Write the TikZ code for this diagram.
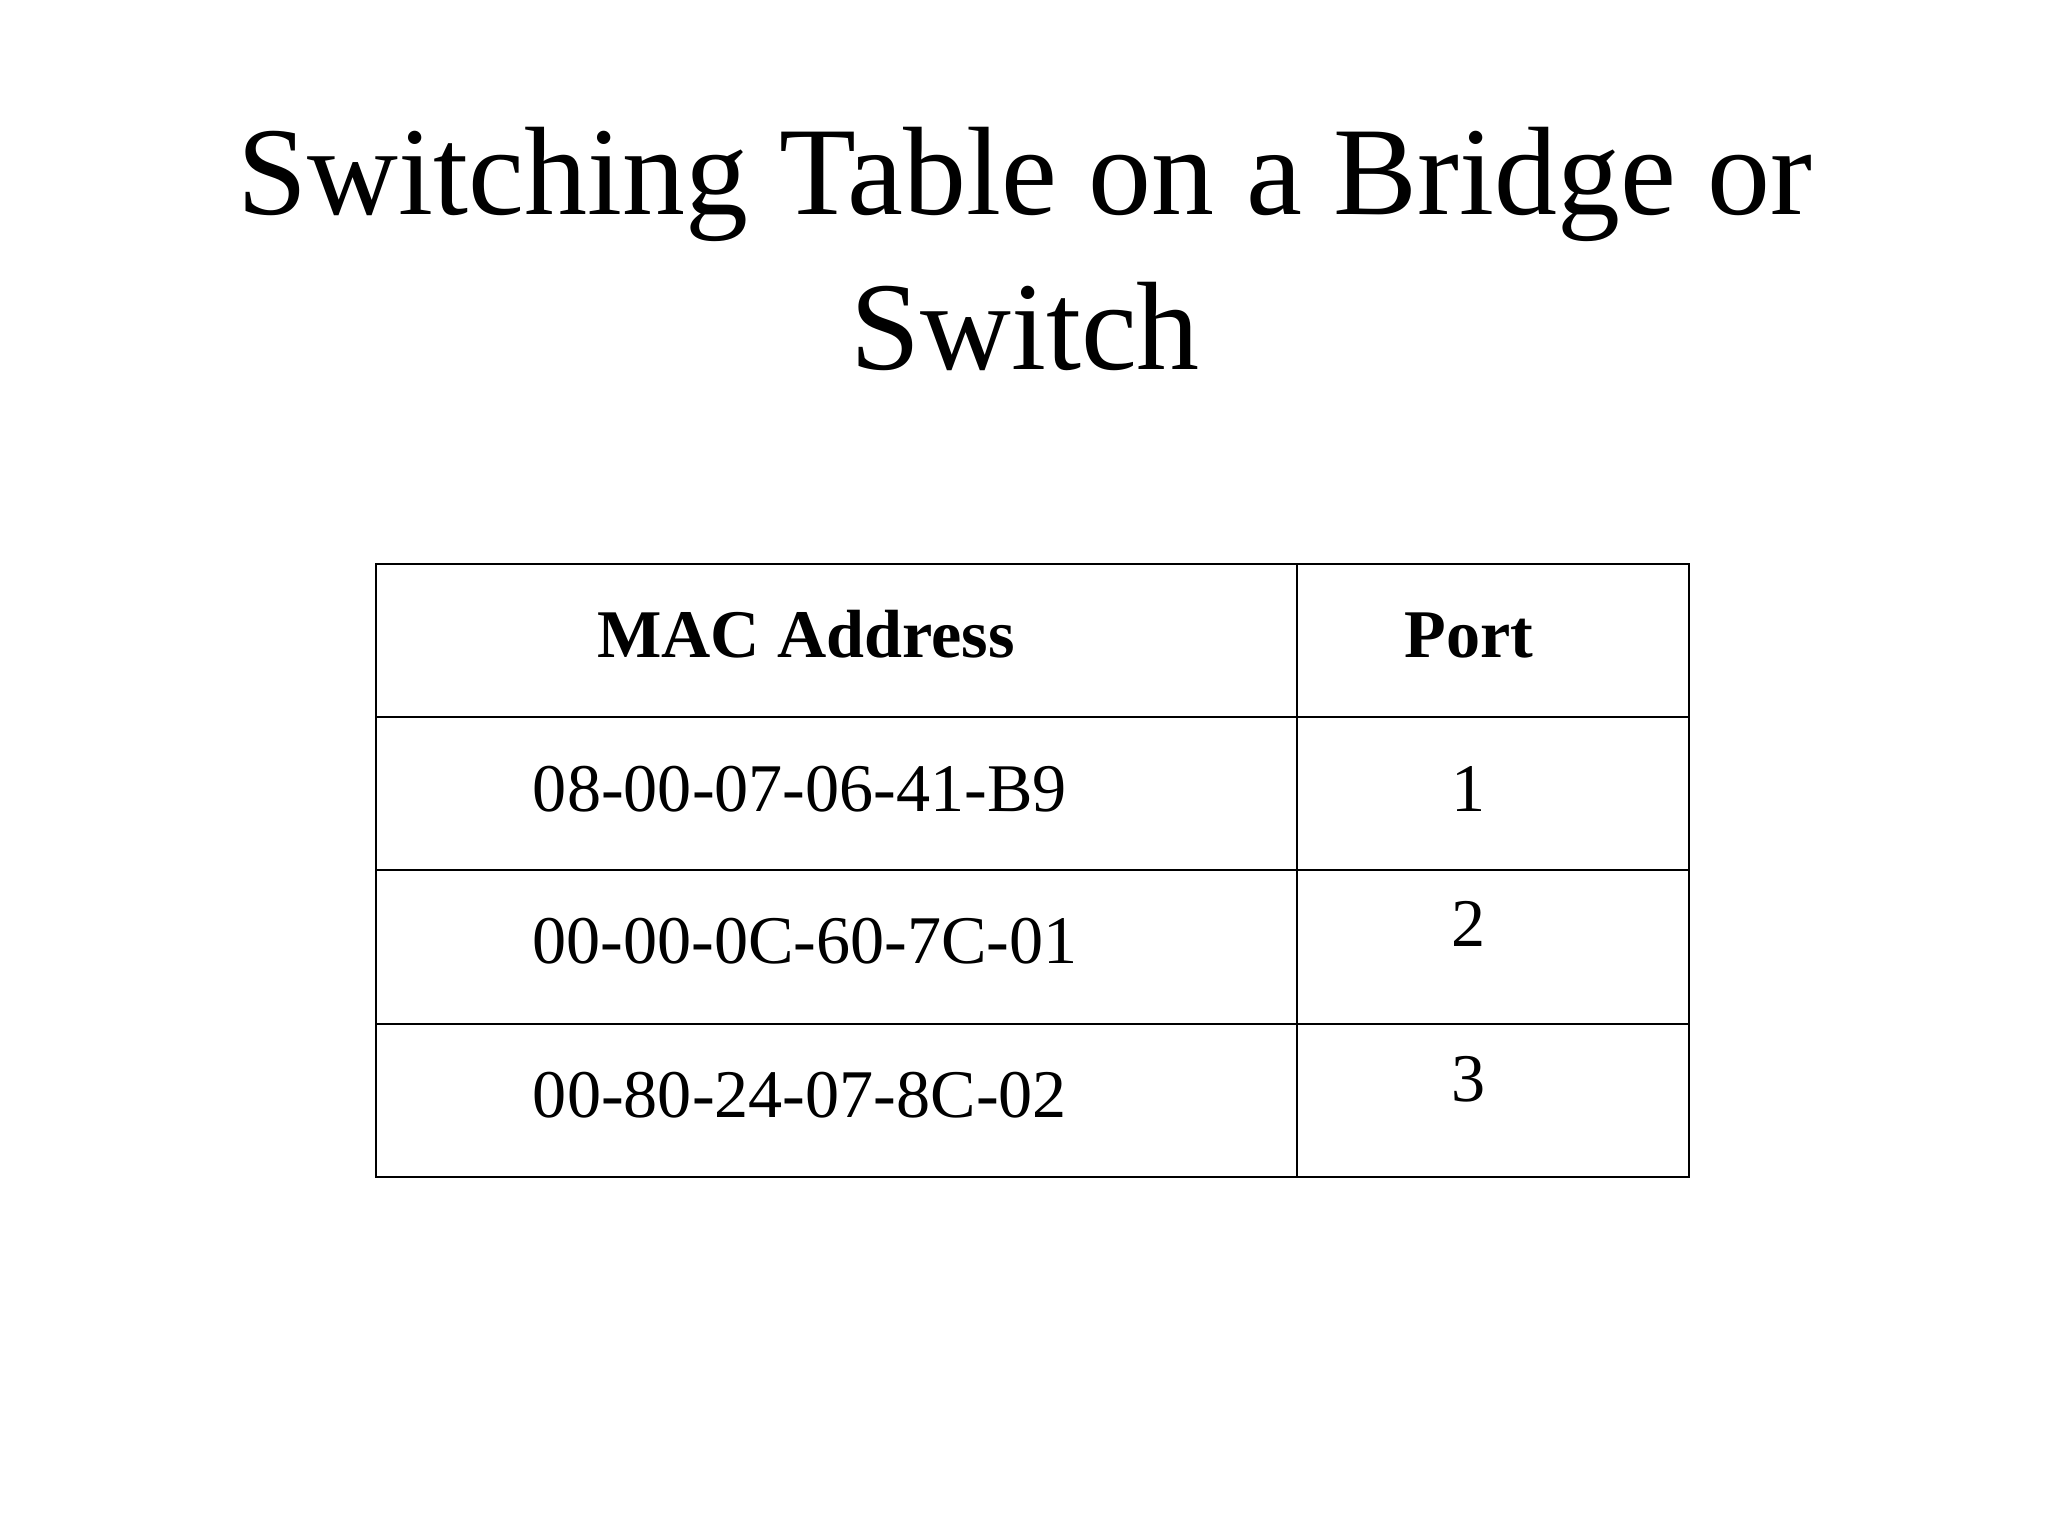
\documentclass[tikz,border=0pt]{standalone}
\usepackage{fontspec}
\setmainfont{Liberation Serif}
\begin{document}
\begin{tikzpicture}[x=1cm,y=-1cm,
  title/.style={anchor=base,font=\fontsize{35.8pt}{44pt}\selectfont},
  cell/.style={anchor=base,font=\fontsize{19.4pt}{24pt}\selectfont},
  grid/.style={draw=black,line width=0.7pt}]
\useasboundingbox (0,0) rectangle (20.48,15.36);
\node[title] (t1) at (10.25,2.15) {Switching Table on a Bridge or};
\node[title] (t2) at (10.25,3.70) {Switch};
\draw[grid] (3.76,5.64) rectangle (16.89,11.77);
\draw[grid] (12.97,5.64) -- (12.97,11.77);
\foreach \y in {7.17,8.70,10.24} \draw[grid] (3.76,\y) -- (16.89,\y);
\node[cell,font=\fontsize{19.4pt}{24pt}\selectfont\bfseries] (h1) at (8.06,6.57) {MAC Address};
\node[cell,font=\fontsize{19.4pt}{24pt}\selectfont\bfseries] (h2) at (14.69,6.57) {Port};
\node[cell] (m1) at (8.0,8.11) {08-00-07-06-41-B9};
\node[cell] (m2) at (8.05,9.63) {00-00-0C-60-7C-01};
\node[cell] (m3) at (8.0,11.17) {00-80-24-07-8C-02};
\node[cell] (p1) at (14.69,8.11) {1};
\node[cell] (p2) at (14.69,9.47) {2};
\node[cell] (p3) at (14.69,11.01) {3};
\end{tikzpicture}
\end{document}
